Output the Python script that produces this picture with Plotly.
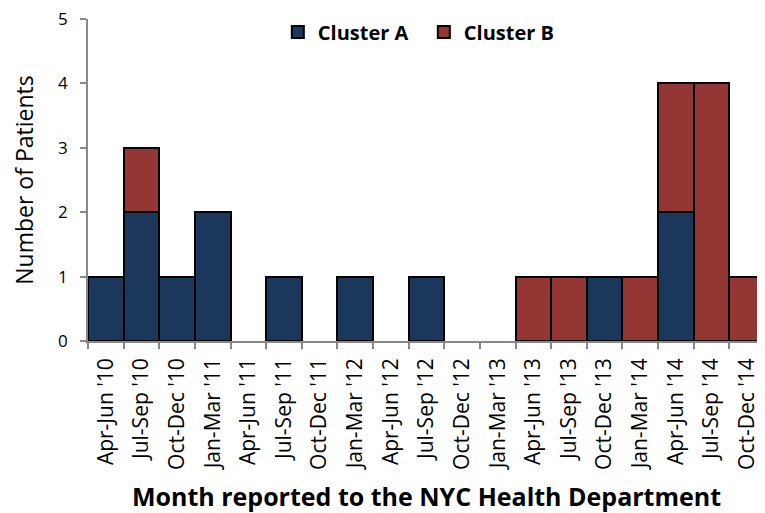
import plotly.graph_objects as go

categories = ["Apr-Jun '10", "Jul-Sep '10", "Oct-Dec '10", "Jan-Mar '11", "Apr-Jun '11",
              "Jul-Sep '11", "Oct-Dec '11", "Jan-Mar '12", "Apr-Jun '12", "Jul-Sep '12",
              "Oct-Dec '12", "Jan-Mar '13", "Apr-Jun '13", "Jul-Sep '13", "Oct-Dec '13",
              "Jan-Mar '14", "Apr-Jun '14", "Jul-Sep '14", "Oct-Dec '14"]
cluster_a = [1, 2, 1, 2, 0, 1, 0, 1, 0, 1, 0, 0, 0, 0, 1, 0, 2, 0, 0]
cluster_b = [0, 1, 0, 0, 0, 0, 0, 0, 0, 0, 0, 0, 1, 1, 0, 1, 2, 4, 1]
y_ticks = [0, 1, 2, 3, 4, 5]

def nz(vals):
    return [v if v else None for v in vals]

FONT = "Open Sans"
fig = go.Figure()
fig.add_trace(go.Bar(x=categories, y=nz(cluster_a), name="Cluster A",
                     marker=dict(color="#1B375C", line=dict(color="black", width=2))))
fig.add_trace(go.Bar(x=categories, y=nz(cluster_b), name="Cluster B",
                     marker=dict(color="#943634", line=dict(color="black", width=2))))

fig.update_layout(
    barmode="stack", bargap=0,
    width=757, height=505,
    margin=dict(l=80, r=0, t=11, b=172),
    plot_bgcolor="white", paper_bgcolor="white",
    font=dict(family=FONT, color="black"),
    showlegend=True,
    legend=dict(orientation="h", x=0.2804, xanchor="left", y=1.02, yanchor="top",
                font=dict(family=FONT, size=20, color="black", weight="bold"),
                traceorder="normal", itemwidth=30, entrywidth=101, entrywidthmode="pixels",
                bgcolor="rgba(0,0,0,0)"),
    xaxis=dict(type="category", tickangle=-90, tickson="boundaries", automargin=False,
               ticks="outside", ticklen=6, tickcolor="#888888", tickwidth=1.5,
               showline=True, linecolor="#888888", linewidth=1.5,
               tickfont=dict(family=FONT, size=21), ticklabelstandoff=7,
               ticklabeloverflow="allow",
               title=dict(text="Month reported to the NYC Health Department",
                          font=dict(family=FONT, size=25, weight="bold"), standoff=24),
               range=[-0.5, len(categories) - 0.5]),
    yaxis=dict(range=[0, 5], tickvals=y_ticks, showgrid=False, zeroline=False, automargin=False,
               ticks="outside", ticklen=6, tickcolor="#888888", tickwidth=1.5,
               showline=True, linecolor="#888888", linewidth=1.5,
               tickfont=dict(family=FONT, size=17), ticklabelstandoff=9,
               ticklabeloverflow="allow",
               title=dict(text="Number of Patients", font=dict(family=FONT, size=23), standoff=21)),
)

fig.write_html("out.html")
